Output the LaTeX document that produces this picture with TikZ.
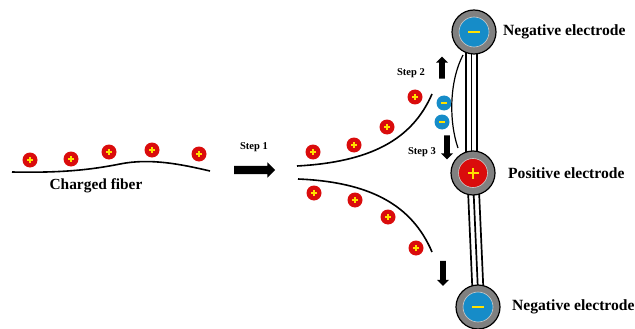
\documentclass[tikz,border=0pt]{standalone}
\usepackage{fontspec}
\setmainfont{Liberation Serif}
\usetikzlibrary{shapes.arrows}
\definecolor{chred}{RGB}{218,12,12}
\definecolor{chblue}{RGB}{22,140,200}
\definecolor{chyel}{RGB}{255,225,0}
\definecolor{elgray}{RGB}{128,128,128}
\begin{document}
\begin{tikzpicture}[x=1pt,y=-1pt,
  poscharge/.style={circle, fill=chred, minimum size=15pt, inner sep=0pt,
    path picture={\draw[chyel,line width=1.3pt]
      ([xshift=-2.8pt]path picture bounding box.center) -- ([xshift=2.8pt]path picture bounding box.center)
      ([yshift=-2.8pt]path picture bounding box.center) -- ([yshift=2.8pt]path picture bounding box.center);}},
  negcharge/.style={circle, fill=chblue, minimum size=15pt, inner sep=0pt,
    path picture={\draw[chyel,line width=1.5pt]
      ([xshift=-3pt]path picture bounding box.center) -- ([xshift=3pt]path picture bounding box.center);}},
  electrode/.style={circle, fill=elgray, draw=black, line width=1.2pt, minimum size=44pt, inner sep=0pt},
  neginner/.style={circle, fill=chblue, draw=gray!40, line width=0.6pt, minimum size=30pt, inner sep=0pt,
    path picture={\draw[chyel,line width=2.2pt]
      ([xshift=-6pt]path picture bounding box.center) -- ([xshift=6pt]path picture bounding box.center);}},
  posinner/.style={circle, fill=chred, draw=gray!40, line width=0.6pt, minimum size=29pt, inner sep=0pt,
    path picture={\draw[chyel,line width=2.2pt]
      ([xshift=-5.5pt]path picture bounding box.center) -- ([xshift=5.5pt]path picture bounding box.center)
      ([yshift=-5.5pt]path picture bounding box.center) -- ([yshift=5.5pt]path picture bounding box.center);}},
  bigarrow/.style={single arrow, fill=black, single arrow head extend=3.5pt},
  lbl/.style={font=\bfseries\fontsize{15.6}{18}\selectfont, anchor=west, inner sep=0pt},
  steplbl/.style={font=\bfseries\fontsize{10.5}{12}\selectfont, inner sep=0pt},
  fib/.style={line width=1.6pt, black},
  rod/.style={line width=1.7pt, black}
]
\useasboundingbox (0,0) rectangle (635,329);

% fiber
\draw[fib] (12,172) .. controls (60,173) and (90,170) .. (120,164)
  .. controls (150,158) and (180,164) .. (210,171);
\node[poscharge] (f1) at (30,160) {};
\node[poscharge] (f2) at (71,159) {};
\node[poscharge] (f3) at (109,152) {};
\node[poscharge] (f4) at (152,150) {};
\node[poscharge] (f5) at (199,154) {};
\node[font=\bfseries\fontsize{15.4}{18}\selectfont, inner sep=0pt] (cf) at (96,186) {Charged fiber};

% step 1
\node[steplbl] (s1) at (254,147) {Step 1};
\node[bigarrow, minimum height=41pt, minimum width=15pt, inner sep=4pt] (a1) at (252.5,170) {};

% split fibers
\draw[fib] (297,166) .. controls (370,162) and (412,140) .. (432,94);
\draw[fib] (298,179) .. controls (370,182) and (412,205) .. (432,252);
\node[poscharge] (u1) at (313,152) {};
\node[poscharge] (u2) at (354,145) {};
\node[poscharge] (u3) at (387,127) {};
\node[poscharge] (u4) at (415,97) {};
\node[poscharge] (l1) at (314,193) {};
\node[poscharge] (l2) at (355,200) {};
\node[poscharge] (l3) at (388,217) {};
\node[poscharge] (l4) at (416,248) {};
\node[negcharge] (n1) at (444,103) {};
\node[negcharge] (n2) at (442,122) {};

% rods
\draw[rod] (466,50) -- (466,155);
\draw[rod] (471.5,50) -- (471.5,155);
\draw[rod] (477,50) -- (477,155);
\draw[rod] (468,190) -- (472.5,292);
\draw[rod] (473.5,190) -- (478,292);
\draw[rod] (479,190) -- (483.5,292);
\draw[line width=1.2pt] (463,55) .. controls (449,82) and (449,122) .. (458,148);

% electrodes
\node[electrode] (et) at (474,32) {};
\node[neginner] (eti) at (474,32) {};
\node[electrode] (em) at (473,173) {};
\node[posinner] (emi) at (473,173) {};
\node[electrode] (eb) at (478,307) {};
\node[neginner] (ebi) at (478,307) {};
\node[lbl] (lt) at (503,32) {Negative electrode};
\node[lbl] (lm) at (508,173) {Positive electrode};
\node[lbl] (lb) at (512,307) {Negative electrode};

% steps 2, 3 and bottom arrow
\node[steplbl] (s2) at (411,73) {Step 2};
\node[bigarrow, shape border rotate=90, minimum height=22pt, minimum width=12pt, inner sep=2.7pt, single arrow head extend=3pt] (a2) at (442,69) {};
\node[steplbl] (s3) at (422,152) {Step 3};
\node[bigarrow, shape border rotate=270, minimum height=24pt, minimum width=12pt, inner sep=2.7pt, single arrow head extend=3pt] (a3) at (447,146) {};
\node[bigarrow, shape border rotate=270, minimum height=25pt, minimum width=12pt, inner sep=2.7pt, single arrow head extend=3pt] (a4) at (443,272) {};
\end{tikzpicture}
\end{document}
